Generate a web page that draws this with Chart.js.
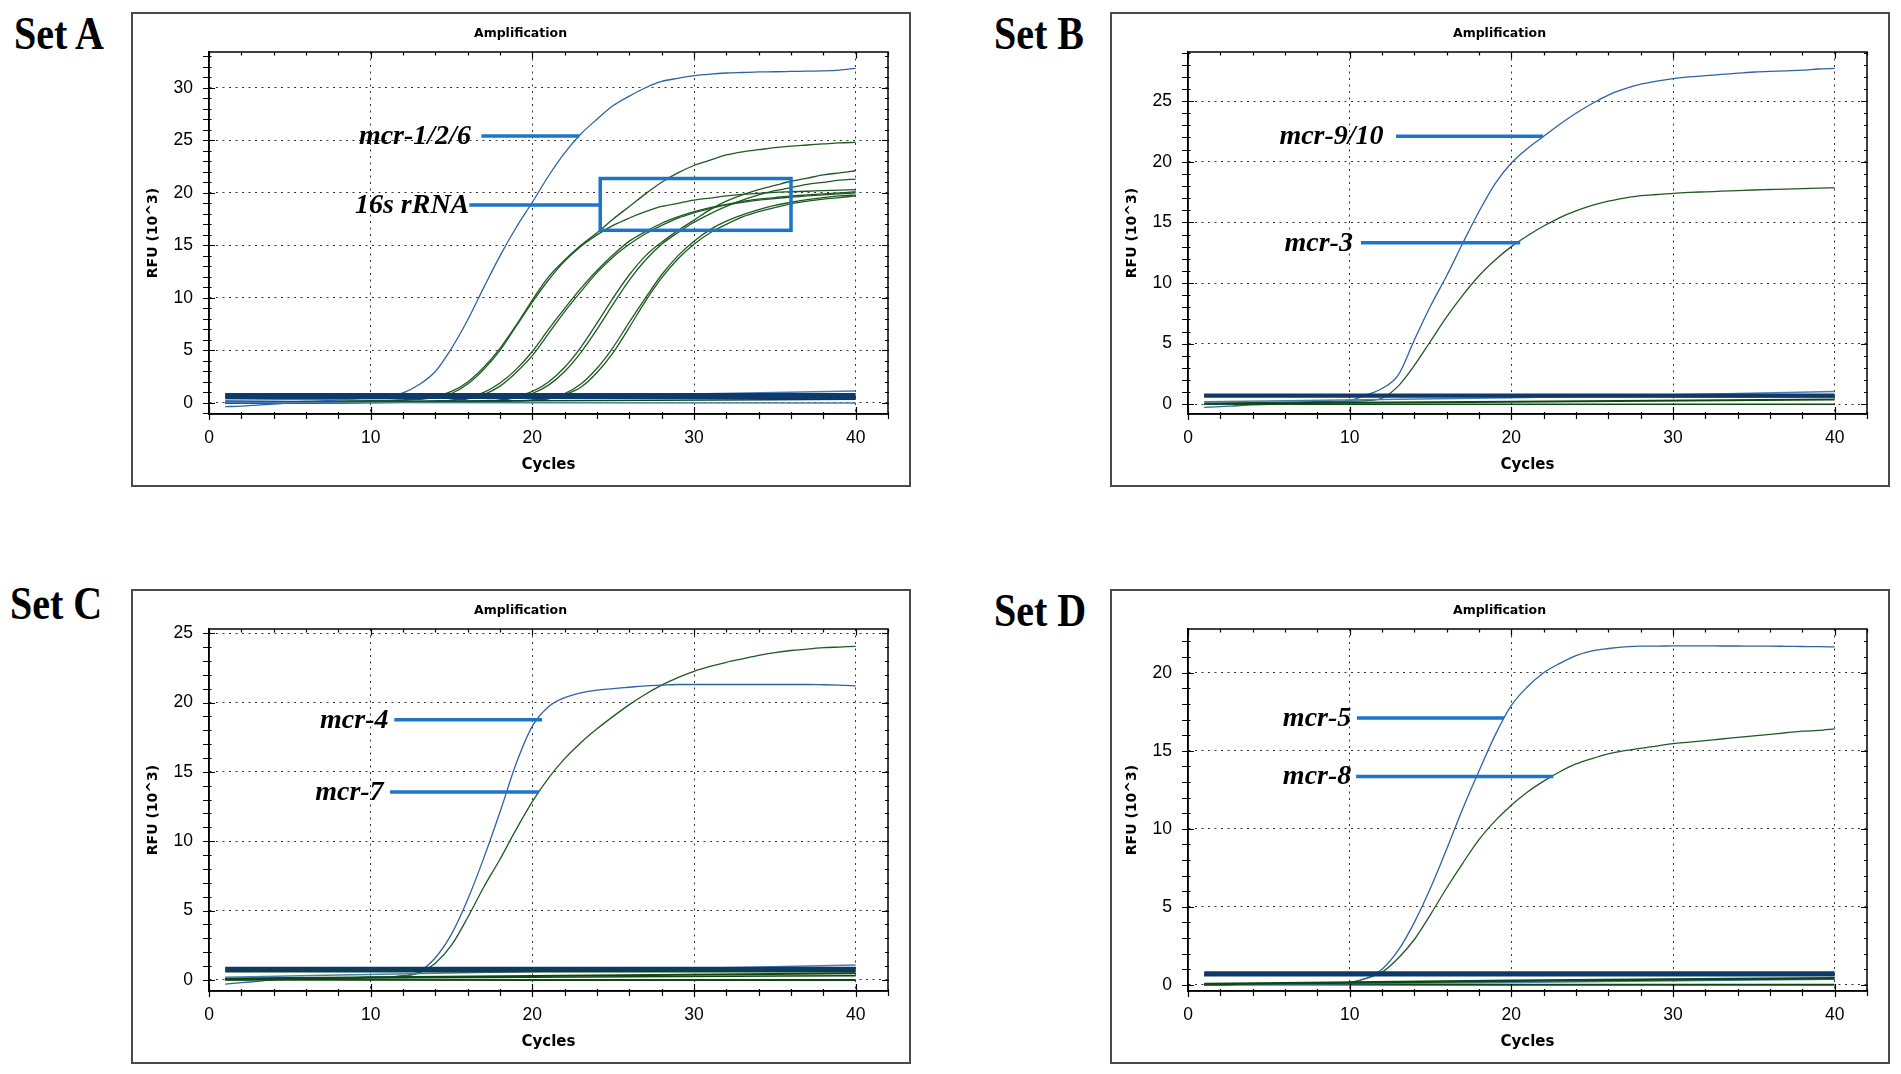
<!DOCTYPE html>
<html>
<head>
<meta charset="utf-8">
<script src="https://cdn.jsdelivr.net/npm/chart.js@4.4.0/dist/chart.umd.min.js"></script>
<style>
  body { margin: 0; background: #fff; width: 1901px; height: 1074px; position: relative; overflow: hidden; }
  .panel { position: absolute; width: 776px; height: 471px; border: 2px solid #4a4a4a; background: #fff; }
  .set { position: absolute; font: bold 40px 'Liberation Serif', 'Times New Roman', serif; line-height: 40px;
         transform: scaleY(1.15); transform-origin: 0 0; white-space: nowrap; color: #000; }
</style>
</head>
<body>
<div class="set" style="left:14px;top:11px">Set A</div>
<div class="set" style="left:994px;top:11px">Set B</div>
<div class="set" style="left:10px;top:581px">Set C</div>
<div class="set" style="left:994px;top:588px">Set D</div>

<div class="panel" style="left:131px;top:12px"><canvas id="cA"></canvas></div>
<div class="panel" style="left:1110px;top:12px"><canvas id="cB"></canvas></div>
<div class="panel" style="left:131px;top:589px"><canvas id="cC"></canvas></div>
<div class="panel" style="left:1110px;top:589px"><canvas id="cD"></canvas></div>

<script>
// cycle numbers on the x axis
const cycles = [1,2,3,4,5,6,7,8,9,10,11,12,13,14,15,16,17,18,19,20,
                21,22,23,24,25,26,27,28,29,30,31,32,33,34,35,36,37,38,39,40]
// flat background traces are read at these cycles only
const baseCycles = [1, 20, 40]

// ---- Set A ----
const setA_mcr126 = [-0.35,-0.3,-0.2,-0.1,0.0,0.1,0.2,0.3,0.4,0.5,0.65,0.95,1.75,3.0,5.2,7.9,11.0,14.0,16.7,19.1,
                     21.6,23.8,25.6,27.0,28.3,29.2,30.0,30.6,30.9,31.15,31.3,31.4,31.45,31.5,31.52,31.55,31.58,31.6,31.68,31.85]
const setA_16s_1 = [0.05,0.05,0.08,0.1,0.12,0.14,0.16,0.18,0.2,0.22,0.25,0.3,0.4,0.6,1.1,2.0,3.4,5.2,7.4,9.8,
                    12.0,13.6,15.0,16.2,17.5,18.7,19.9,21.0,21.9,22.6,23.1,23.6,23.9,24.1,24.3,24.45,24.55,24.65,24.75,24.8]
const setA_16s_2 = [0.1,0.1,0.1,0.12,0.12,0.14,0.15,0.16,0.18,0.2,0.22,0.26,0.35,0.5,0.9,1.8,3.2,5.0,7.3,9.6,
                    11.7,13.5,14.9,16.0,16.9,17.6,18.2,18.7,19.0,19.3,19.5,19.7,19.85,19.95,20.05,20.1,20.15,20.2,20.25,20.3]
const setA_16s_3 = [0.0,0.0,0.02,0.03,0.04,0.05,0.06,0.07,0.08,0.1,0.12,0.14,0.16,0.2,0.28,0.5,1.0,1.9,3.2,4.9,
                    7.0,9.0,10.9,12.6,14.1,15.4,16.3,17.1,17.7,18.2,18.6,18.9,19.2,19.4,19.55,19.7,19.8,19.9,20.0,20.1]
const setA_16s_4 = [0.0,0.0,0.0,0.02,0.03,0.04,0.05,0.06,0.07,0.08,0.1,0.12,0.14,0.18,0.25,0.4,0.8,1.6,2.9,4.5,
                    6.6,8.7,10.6,12.4,13.9,15.1,16.1,16.9,17.6,18.1,18.5,18.85,19.1,19.3,19.45,19.6,19.7,19.8,19.9,20.0]
const setA_16s_5 = [0.0,0.0,0.0,0.0,0.01,0.02,0.03,0.04,0.05,0.06,0.07,0.08,0.1,0.12,0.14,0.17,0.22,0.3,0.6,1.1,
                    2.0,3.4,5.3,7.6,10.0,12.2,14.0,15.3,16.4,17.4,18.4,19.2,19.8,20.3,20.7,21.1,21.4,21.7,21.9,22.1]
const setA_16s_6 = [0.0,0.0,0.0,0.0,0.0,0.01,0.02,0.03,0.04,0.05,0.06,0.07,0.08,0.1,0.12,0.15,0.2,0.25,0.5,0.9,
                    1.7,3.0,4.8,7.0,9.4,11.7,13.6,15.1,16.2,17.2,18.0,18.7,19.3,19.8,20.2,20.5,20.8,21.0,21.2,21.3]
const setA_16s_7 = [0.0,0.0,0.0,0.0,0.0,0.0,0.01,0.02,0.03,0.04,0.05,0.06,0.07,0.08,0.1,0.12,0.15,0.18,0.22,0.3,
                    0.5,0.9,1.8,3.3,5.3,7.7,10.0,12.2,14.0,15.4,16.5,17.3,17.9,18.4,18.8,19.1,19.35,19.55,19.7,19.8]
const setA_16s_8 = [0.0,0.0,0.0,0.0,0.0,0.0,0.0,0.01,0.02,0.03,0.04,0.05,0.06,0.07,0.08,0.1,0.13,0.16,0.2,0.25,
                    0.4,0.8,1.5,2.9,4.8,7.2,9.7,11.9,13.7,15.1,16.2,17.0,17.7,18.2,18.6,18.95,19.2,19.4,19.55,19.7]
const setA_navy1 = [0.75, 0.75, 0.75]
const setA_navy2 = [0.55, 0.55, 0.52]
const setA_lightBlue = [0.25, 0.6, 1.15]
const setA_blueLow = [0.05, 0.02, 0.0]
const setA_greenLow = [0.05, 0.2, 0.35]

// ---- Set B ----
const setB_mcr910 = [-0.25,-0.2,-0.12,-0.05,0.0,0.05,0.1,0.15,0.2,0.3,0.75,1.3,2.4,5.3,8.1,10.6,13.3,15.9,18.2,19.9,
                     21.1,22.1,23.1,24.0,24.8,25.5,26.0,26.4,26.65,26.85,27.0,27.1,27.2,27.3,27.4,27.45,27.5,27.55,27.65,27.7]
const setB_mcr3 = [0.1,0.1,0.12,0.14,0.16,0.18,0.2,0.22,0.24,0.26,0.3,0.5,1.5,3.2,5.2,7.2,9.0,10.6,11.9,13.0,
                   13.9,14.7,15.4,15.95,16.4,16.75,17.0,17.2,17.3,17.4,17.47,17.52,17.57,17.62,17.67,17.71,17.75,17.78,17.82,17.85]
const setB_navy = [0.72, 0.72, 0.72]
const setB_greenThick = [0.68, 0.68, 0.66]
const setB_lightBlue = [0.2, 0.55, 1.05]
const setB_greenLow = [0.05, 0.2, 0.4]
const setB_greenZero = [0.02, 0.0, 0.0]

// ---- Set C ----
const setC_mcr4 = [-0.3,-0.2,-0.1,0.0,0.05,0.1,0.1,0.15,0.15,0.2,0.2,0.25,0.6,1.6,3.3,5.8,8.8,12.1,15.6,18.3,
                   19.7,20.35,20.7,20.9,21.0,21.1,21.2,21.25,21.3,21.3,21.3,21.3,21.3,21.3,21.3,21.3,21.3,21.28,21.25,21.2]
const setC_mcr7 = [0.0,0.0,0.05,0.05,0.1,0.1,0.1,0.15,0.15,0.2,0.2,0.3,0.5,1.2,2.5,4.5,6.7,8.7,10.85,12.85,
                   14.55,15.95,17.1,18.1,19.0,19.85,20.6,21.25,21.8,22.25,22.6,22.9,23.15,23.4,23.6,23.75,23.85,23.95,24.0,24.05]
const setC_navy = [0.8, 0.8, 0.8]
const setC_greenThick = [0.65, 0.65, 0.65]
const setC_lightBlue = [0.2, 0.6, 1.08]
const setC_greenLow1 = [0.1, 0.28, 0.48]
const setC_greenLow2 = [0.1, 0.2, 0.3]
const setC_greenZero = [0.02, 0.0, 0.0]

// ---- Set D ----
const setD_mcr5 = [0.0,0.0,0.02,0.03,0.05,0.06,0.08,0.1,0.12,0.15,0.4,1.0,2.2,4.0,6.2,8.7,11.3,13.7,16.0,17.9,
                   19.1,20.0,20.6,21.1,21.4,21.55,21.65,21.7,21.7,21.72,21.72,21.72,21.71,21.71,21.7,21.7,21.69,21.68,21.67,21.65]
const setD_mcr8 = [0.0,0.0,0.02,0.03,0.05,0.06,0.08,0.1,0.12,0.15,0.4,0.8,1.7,2.9,4.5,6.2,7.8,9.3,10.5,11.5,
                   12.35,13.05,13.65,14.15,14.5,14.8,15.0,15.15,15.3,15.45,15.55,15.65,15.75,15.85,15.95,16.05,16.15,16.25,16.3,16.4]
const setD_navy1 = [0.74, 0.74, 0.74]
const setD_navy2 = [0.62, 0.62, 0.62]
const setD_greenLow = [0.05, 0.25, 0.42]
const setD_blueLow = [0.0, 0.15, 0.35]
const setD_greenZero = [0.02, 0.0, 0.0]

const BLUE = '#2d63a6'
const GREEN = '#1f5a22'
const NAVY = '#0d3a68'
const DKGREEN = '#0f4714'
const LTBLUE = '#4a7db8'
const MARK = '#1c75c9'

function curve(values, color) {
  return {
    data: values.map((v, i) => ({x: cycles[i], y: v})),
    borderColor: color, borderWidth: 1.3, pointRadius: 0, fill: false
  }
}
function base(values, color, width) {
  return {
    data: values.map((v, i) => ({x: baseCycles[i], y: v})),
    borderColor: color, borderWidth: width, pointRadius: 0, fill: false
  }
}

const tickFont = {family: "'Liberation Sans', Arial, sans-serif", size: 17.5}
const boldFont = "'DejaVu Sans', sans-serif"

// plot box plus the small tick marks on all four sides
const framePlugin = {
  id: 'frame',
  afterDatasetsDraw(chart) {
    const {ctx, chartArea: a, scales: {x, y}} = chart
    ctx.save()
    ctx.strokeStyle = '#000'
    ctx.lineWidth = 1.5
    ctx.strokeRect(a.left, a.top, a.right - a.left, a.bottom - a.top)
    ctx.lineWidth = 1.2
    ctx.beginPath()
    for (let v = Math.ceil(y.min); v <= y.max; v++) {
      const py = Math.round(y.getPixelForValue(v)) + 0.5
      const major = v % 5 === 0
      ctx.moveTo(a.left - 6, py); ctx.lineTo(a.left + (major ? 6 : 2.5), py)
      ctx.moveTo(a.right - (major ? 6 : 3), py); ctx.lineTo(a.right + 1, py)
    }
    for (let v = 0; v <= x.max; v += 2) {
      const px = Math.round(x.getPixelForValue(v)) + 0.5
      const major = v % 10 === 0
      ctx.moveTo(px, a.bottom - (major ? 7 : 2)); ctx.lineTo(px, a.bottom + (major ? 6 : 5))
      ctx.moveTo(px, a.top); ctx.lineTo(px, a.top + (major ? 6.5 : 3.5))
    }
    ctx.stroke()
    ctx.restore()
  }
}

// the blue pointer lines, labels and the box
function notesPlugin(notes, box) {
  return {
    id: 'notes',
    afterDraw(chart) {
      const {ctx, scales: {x, y}} = chart
      ctx.save()
      ctx.strokeStyle = MARK
      ctx.lineWidth = 3.5
      notes.forEach(n => {
        const py = y.getPixelForValue(n.y)
        ctx.beginPath()
        ctx.moveTo(x.getPixelForValue(n.x1), py)
        ctx.lineTo(x.getPixelForValue(n.x2), py)
        ctx.stroke()
        ctx.fillStyle = '#000'
        ctx.font = "italic bold 28px 'Liberation Serif', 'Times New Roman', serif"
        ctx.textAlign = 'right'
        ctx.textBaseline = 'alphabetic'
        ctx.fillText(n.text, x.getPixelForValue(n.textX), py + 8)
      })
      if (box) {
        const l = x.getPixelForValue(box.x1), r = x.getPixelForValue(box.x2)
        const t = y.getPixelForValue(box.y2), b = y.getPixelForValue(box.y1)
        ctx.strokeRect(l, t, r - l, b - t)
      }
      ctx.restore()
    }
  }
}

function makeChart(id, datasets, yMin, yMax, notes, box) {
  return new Chart(document.getElementById(id), {
    type: 'line',
    data: {datasets},
    options: {
      responsive: true,
      maintainAspectRatio: false,
      animation: false,
      layout: {padding: {left: 20, right: 21, top: 0, bottom: 0}},
      elements: {line: {cubicInterpolationMode: 'monotone'}},
      plugins: {
        legend: {display: false},
        tooltip: {enabled: false},
        title: {
          display: true, text: 'Amplification', color: '#000',
          font: {family: boldFont, size: 12.5, weight: 'bold'},
          padding: {top: 12, bottom: 11}
        }
      },
      scales: {
        x: {
          type: 'linear', min: 0, max: 42,
          afterFit: s => { s.height = 71 },
          ticks: {stepSize: 10, includeBounds: false, padding: 14, color: '#000', font: tickFont, maxRotation: 0},
          grid: {color: c => c.tick && c.tick.value === 0 ? 'rgba(0,0,0,0)' : '#333', lineWidth: 1, drawTicks: false},
          border: {color: '#000', width: 1.5, dash: [2, 4.5]},
          title: {
            display: true, text: 'Cycles', color: '#000',
            font: {family: boldFont, size: 15, weight: 'bold'},
            padding: {top: 0, bottom: 11}
          }
        },
        y: {
          type: 'linear', min: yMin, max: yMax,
          afterFit: s => { s.width = 56 },
          ticks: {stepSize: 5, includeBounds: false, padding: 16, color: '#000', font: tickFont},
          grid: {color: '#333', lineWidth: 1, drawTicks: false},
          border: {color: '#000', width: 1.5, dash: [2, 4.5]},
          title: {
            display: true, text: 'RFU (10^3)', color: '#000',
            font: {family: boldFont, size: 14, weight: 'bold'},
            padding: {top: -8, bottom: 0}
          }
        }
      }
    },
    plugins: [framePlugin, notesPlugin(notes, box)]
  })
}

makeChart('cA', [
  base(setA_navy1, NAVY, 4),
  base(setA_navy2, NAVY, 3.5),
  base(setA_lightBlue, LTBLUE, 1.5),
  base(setA_blueLow, LTBLUE, 1.5),
  base(setA_greenLow, DKGREEN, 1.5),
  curve(setA_mcr126, BLUE),
  curve(setA_16s_1, GREEN), curve(setA_16s_2, GREEN), curve(setA_16s_3, GREEN), curve(setA_16s_4, GREEN),
  curve(setA_16s_5, GREEN), curve(setA_16s_6, GREEN), curve(setA_16s_7, GREEN), curve(setA_16s_8, GREEN)
], -1.05, 33.4, [
  {text: 'mcr-1/2/6', textX: 16.2, x1: 16.85, x2: 22.9, y: 25.4},
  {text: '16s rRNA', textX: 16.1, x1: 16.1, x2: 24.2, y: 18.85}
], {x1: 24.2, x2: 36.0, y1: 16.43, y2: 21.36})

makeChart('cB', [
  base(setB_navy, NAVY, 4),
  base(setB_greenThick, DKGREEN, 3),
  base(setB_lightBlue, LTBLUE, 1.5),
  base(setB_greenLow, DKGREEN, 2),
  base(setB_greenZero, DKGREEN, 1.5),
  curve(setB_mcr910, BLUE),
  curve(setB_mcr3, GREEN)
], -0.8, 29.05, [
  {text: 'mcr-9/10', textX: 12.1, x1: 12.87, x2: 21.96, y: 22.1},
  {text: 'mcr-3', textX: 10.2, x1: 10.7, x2: 20.55, y: 13.33}
], null)

makeChart('cC', [
  base(setC_navy, NAVY, 4),
  base(setC_greenThick, DKGREEN, 3),
  base(setC_lightBlue, LTBLUE, 1.5),
  base(setC_greenLow1, DKGREEN, 2),
  base(setC_greenLow2, DKGREEN, 1.5),
  base(setC_greenZero, DKGREEN, 2),
  curve(setC_mcr4, BLUE),
  curve(setC_mcr7, GREEN)
], -0.8, 25.3, [
  {text: 'mcr-4', textX: 11.1, x1: 11.46, x2: 20.6, y: 18.75},
  {text: 'mcr-7', textX: 10.8, x1: 11.2, x2: 20.4, y: 13.55}
], null)

makeChart('cD', [
  base(setD_navy1, NAVY, 4),
  base(setD_navy2, NAVY, 3),
  base(setD_greenLow, DKGREEN, 2.5),
  base(setD_blueLow, LTBLUE, 1.5),
  base(setD_greenZero, DKGREEN, 2),
  curve(setD_mcr5, BLUE),
  curve(setD_mcr8, GREEN)
], -0.4, 22.8, [
  {text: 'mcr-5', textX: 10.1, x1: 10.45, x2: 19.55, y: 17.1},
  {text: 'mcr-8', textX: 10.1, x1: 10.4, x2: 22.6, y: 13.35}
], null)
</script>
</body>
</html>
